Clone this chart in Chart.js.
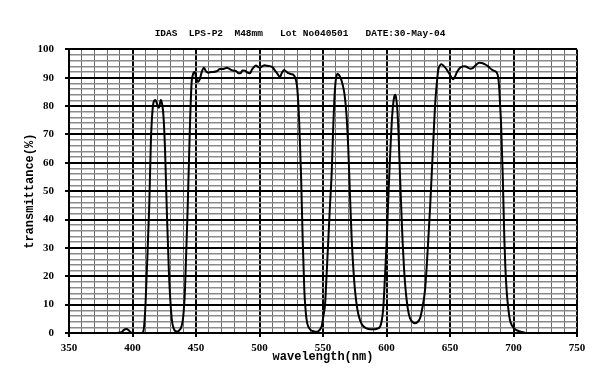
<!DOCTYPE html>
<html>
<head>
<meta charset="utf-8">
<script src="https://cdn.jsdelivr.net/npm/chart.js@4.4.1/dist/chart.umd.min.js"></script>
<style>
  body { margin: 0; background: #fff; }
  #wrap { width: 600px; height: 385px; }
</style>
</head>
<body>
<div id="wrap"><canvas id="myChart" width="600" height="385"></canvas></div>
<script>
// filter curve: wavelength (nm) and transmittance (%)
var wavelength = [
  388, 391.5, 393, 395, 397, 398.5, 401, 407, 408.5, 410, 411.2, 413.2, 414.5, 415.1, 416.4, 418, 419.5, 420.8, 422.3, 423.2,
  424.3, 425.6, 426.9, 428.7, 430.9, 432.5, 434.8, 436.5, 438.7, 440, 441.3, 443.5, 445.3, 446.5, 447.5, 449, 450.2, 451.5, 453, 454.5,
  456.3, 458, 459.7, 462, 466.3, 468.9, 471.5, 474.2, 476, 478.1, 480, 482, 483.5, 485.2, 486.5, 488.6, 490.5, 492.5, 494, 495.1,
  497.2, 499, 500.4, 502, 504.3, 506, 508.3, 510.5, 512.2, 514, 516.1, 517.5, 519.3, 521, 522.7, 525, 527.2, 528.5, 529.8, 531.3,
  532.7, 534, 535.3, 536.5, 537.6, 540, 542.4, 544.5, 546.3, 548, 549, 550.3, 551.6, 553, 554.2, 555.5, 556.9, 558, 558.9, 560,
  561.5, 562.5, 564, 565.5, 567, 568.5, 570, 571.3, 572.6, 574, 575.2, 577, 579.1, 581.5, 584.4, 587, 589.6, 592.5, 594.9, 596.3,
  597.5, 598.8, 600.2, 601.2, 602.2, 603.2, 604.1, 605.2, 606.2, 606.9, 607.7, 608.5, 609.5, 610.6, 611.7, 612.7, 613.9, 615.1, 616.8, 618.5,
  620.5, 622.4, 624.4, 626.4, 628.3, 630.3, 631.6, 632.9, 634.3, 635.6, 636.9, 638.2, 639.5, 640.8, 641.8, 643.3, 645, 647.4, 650, 651.5,
  652.6, 654, 655.5, 657.9, 660, 661.8, 664, 666, 667.5, 670, 673, 675, 677.6, 680, 682.8, 685, 686.8, 688, 688.8, 689.5,
  690.2, 691.5, 692.8, 693.6, 694.6, 695.8, 697.2, 699, 701.2, 703.5, 706.5, 710
];
var transmittance = [
  0, 0.3, 1.0, 1.4, 1.0, 0.2, 0, 0, 0.5, 8, 21, 45, 68, 74, 81, 82.2, 80.5, 79.4, 82.2, 81,
  77, 65, 45, 21, 5, 1.5, 0.5, 0.8, 2.5, 6, 15, 45, 74, 88, 91, 92, 90, 88.5, 89.5, 92,
  93.5, 92.2, 91.8, 92, 92.3, 93.1, 93.1, 93.5, 93.2, 92.7, 92.5, 92.2, 91.6, 91.6, 92.6, 92.5, 91.8, 91.6, 92.8, 93.5,
  94.3, 93.8, 93.5, 94, 94.4, 94.2, 94.1, 93.6, 92.5, 91.5, 90.3, 91.6, 92.7, 92.2, 91.6, 91.3, 90.8, 89.5, 86, 74,
  56, 33, 15, 7, 3.4, 1.2, 0.6, 0.4, 0.6, 1.5, 2.5, 6, 10, 22, 33, 45, 57, 72, 82, 89,
  91.4, 91, 89.8, 87.5, 84, 77, 64, 48, 33, 22, 15, 8.5, 4.6, 2.5, 1.6, 1.3, 1.3, 1.5, 2.2, 4.5,
  9, 20, 33, 45, 56, 66, 74, 80.5, 83.5, 84, 82.5, 79, 70, 56, 43, 32, 22, 15, 8.5, 5.2,
  3.9, 3.4, 3.9, 5.2, 9, 15, 23, 33, 44, 56, 68, 80, 87.5, 92.9, 94.2, 94.8, 94.2, 92.9, 91, 89.9,
  89.5, 90.5, 92, 93.5, 94, 94.1, 93.6, 93.2, 93.3, 94.3, 95.3, 95.2, 94.7, 94, 92.9, 92.4, 91.8, 90, 86, 80,
  74, 56, 33, 23, 15, 9, 4.6, 2.5, 1.3, 0.8, 0.4, 0
];
var titleText = 'IDAS  LPS-P2  M48mm   Lot No040501   DATE:30-May-04';
var xMin = 350, xMax = 750, xStep = 10, xLabelEvery = 50;
var yMin = 0, yMax = 100, yStep = 2, yLabelEvery = 10;

var points = [];
for (var i = 0; i < wavelength.length; i++) {
  points.push({x: wavelength[i], y: transmittance[i]});
}

function isMajor(v, every) {
  return Math.abs(v % every) < 1e-6;
}

var ctx = document.getElementById('myChart');
let myChart = new Chart(ctx, {
  type: 'line',
  data: {
    datasets: [{
      data: points,
      borderColor: '#000',
      borderWidth: 2,
      pointRadius: 0,
      fill: false,
      cubicInterpolationMode: 'monotone'
    }]
  },
  options: {
    responsive: false,
    animation: false,
    layout: { padding: 0 },
    plugins: {
      legend: { display: false },
      tooltip: { enabled: false },
      title: {
        display: true,
        text: titleText,
        color: '#000',
        font: { family: 'Liberation Mono', size: 9.5, weight: 'bold' },
        padding: { top: 28, bottom: 10 }
      }
    },
    scales: {
      x: {
        type: 'linear',
        min: xMin,
        max: xMax,
        afterFit: function (scale) { scale.height = 52; },
        border: { color: '#000', width: 2 },
        grid: {
          color: function (c) { return isMajor(c.tick.value, xLabelEvery) ? '#000' : '#6a6a6a'; },
          lineWidth: function (c) { return isMajor(c.tick.value, xLabelEvery) ? 2 : 1; },
          tickColor: function (c) { return isMajor(c.tick.value, xLabelEvery) ? '#000' : 'rgba(0,0,0,0)'; },
          tickLength: 4,
          tickWidth: 2
        },
        ticks: {
          stepSize: xStep,
          autoSkip: false,
          maxRotation: 0,
          padding: 5,
          color: '#000',
          font: { family: 'Liberation Serif', size: 11, weight: 'bold' },
          callback: function (v) { return isMajor(v, xLabelEvery) ? v : ''; }
        },
        title: {
          display: true,
          text: 'wavelength(nm)',
          color: '#000',
          font: { family: 'Liberation Mono', size: 12, weight: 'bold' },
          padding: { top: 0, bottom: 21 }
        }
      },
      y: {
        min: yMin,
        max: yMax,
        afterFit: function (scale) { scale.width = 69; },
        border: { color: '#000', width: 2 },
        grid: {
          color: function (c) { return isMajor(c.tick.value, yLabelEvery) ? '#000' : '#8a8a8a'; },
          lineWidth: function (c) { return isMajor(c.tick.value, yLabelEvery) ? 2 : 1.5; },
          tickColor: function (c) { return isMajor(c.tick.value, yLabelEvery) ? '#000' : 'rgba(0,0,0,0)'; },
          tickLength: 4,
          tickWidth: 2
        },
        ticks: {
          stepSize: yStep,
          autoSkip: false,
          padding: 11,
          color: '#000',
          font: { family: 'Liberation Serif', size: 11, weight: 'bold' },
          callback: function (v) { return isMajor(v, yLabelEvery) ? v : ''; }
        },
        title: {
          display: true,
          text: 'transmittance(%)',
          color: '#000',
          font: { family: 'Liberation Mono', size: 12, weight: 'bold' },
          padding: { top: 23, bottom: 0 }
        }
      },
      // empty right-hand strip so the plot ends at 750 with white margin
      yRight: {
        position: 'right',
        min: yMin,
        max: yMax,
        afterFit: function (scale) { scale.width = 23; },
        border: { display: false },
        grid: { display: false, drawTicks: false },
        ticks: { display: false }
      }
    }
  }
});
</script>
</body>
</html>
